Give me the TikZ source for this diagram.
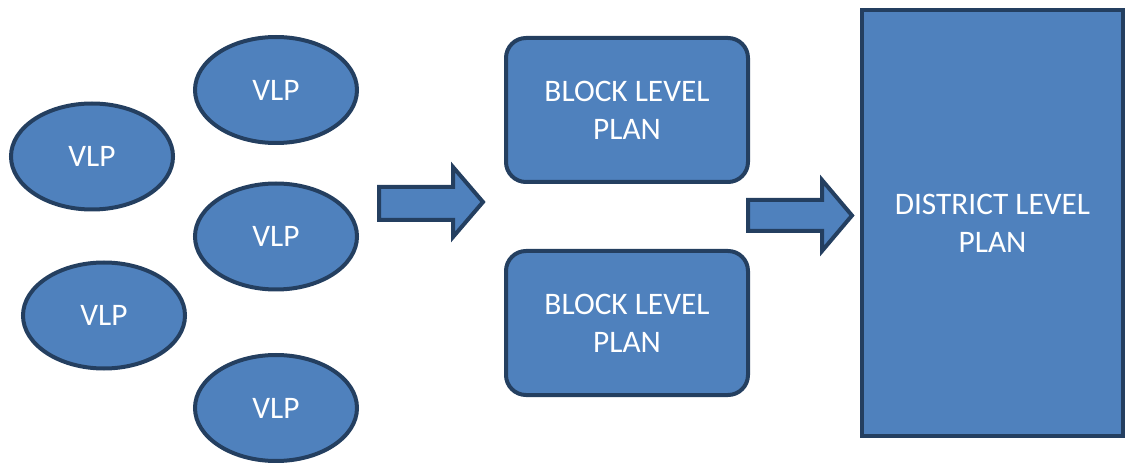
\documentclass[tikz,border=0pt]{standalone}
\usepackage{fontspec}
\setmainfont{Carlito}
\usetikzlibrary{shapes.geometric}
\definecolor{boxfill}{HTML}{4F81BD}
\definecolor{boxline}{HTML}{243F60}
\begin{document}
\begin{tikzpicture}[x=0.75pt,y=-0.75pt,
  shapebase/.style={fill=boxfill,draw=boxline,line width=3pt,text=white,
    font=\fontsize{23.5}{28.5}\selectfont,align=center,inner sep=0pt},
  vlp/.style={shapebase,ellipse,minimum width=121.5pt,minimum height=79.5pt},
  blockplan/.style={shapebase,rectangle,rounded corners=15pt,
    minimum width=181.5pt,minimum height=108pt},
  districtplan/.style={shapebase,rectangle,minimum width=195.75pt,minimum height=318.75pt},
  blockarrow/.style={fill=boxfill,draw=boxline,line width=3pt,line join=miter}]
\useasboundingbox (0,0) rectangle (1125,463);

% village level plans
\node[vlp] (v1) at (276,90) {VLP};
\node[vlp] (v2) at (92,156.5) {VLP};
\node[vlp] (v3) at (276,236.5) {VLP};
\node[vlp] (v4) at (104,315.5) {VLP};
\node[vlp] (v5) at (276,408) {VLP};

% block level plans
\node[blockplan] (b1) at (627,110) {BLOCK LEVEL\\PLAN};
\node[blockplan] (b2) at (627,323) {BLOCK LEVEL\\PLAN};

% district level plan
\node[districtplan] (d) at (992.5,223) {DISTRICT LEVEL\\PLAN};

% block arrows between the stages
\draw[blockarrow] (379,187) -- (453,187) -- (453,167) -- (483,202)
  -- (453,237) -- (453,220) -- (379,220) -- cycle;
\draw[blockarrow] (748,200) -- (822,200) -- (822,180) -- (852,215.5)
  -- (822,251) -- (822,231) -- (748,231) -- cycle;
\end{tikzpicture}
\end{document}
